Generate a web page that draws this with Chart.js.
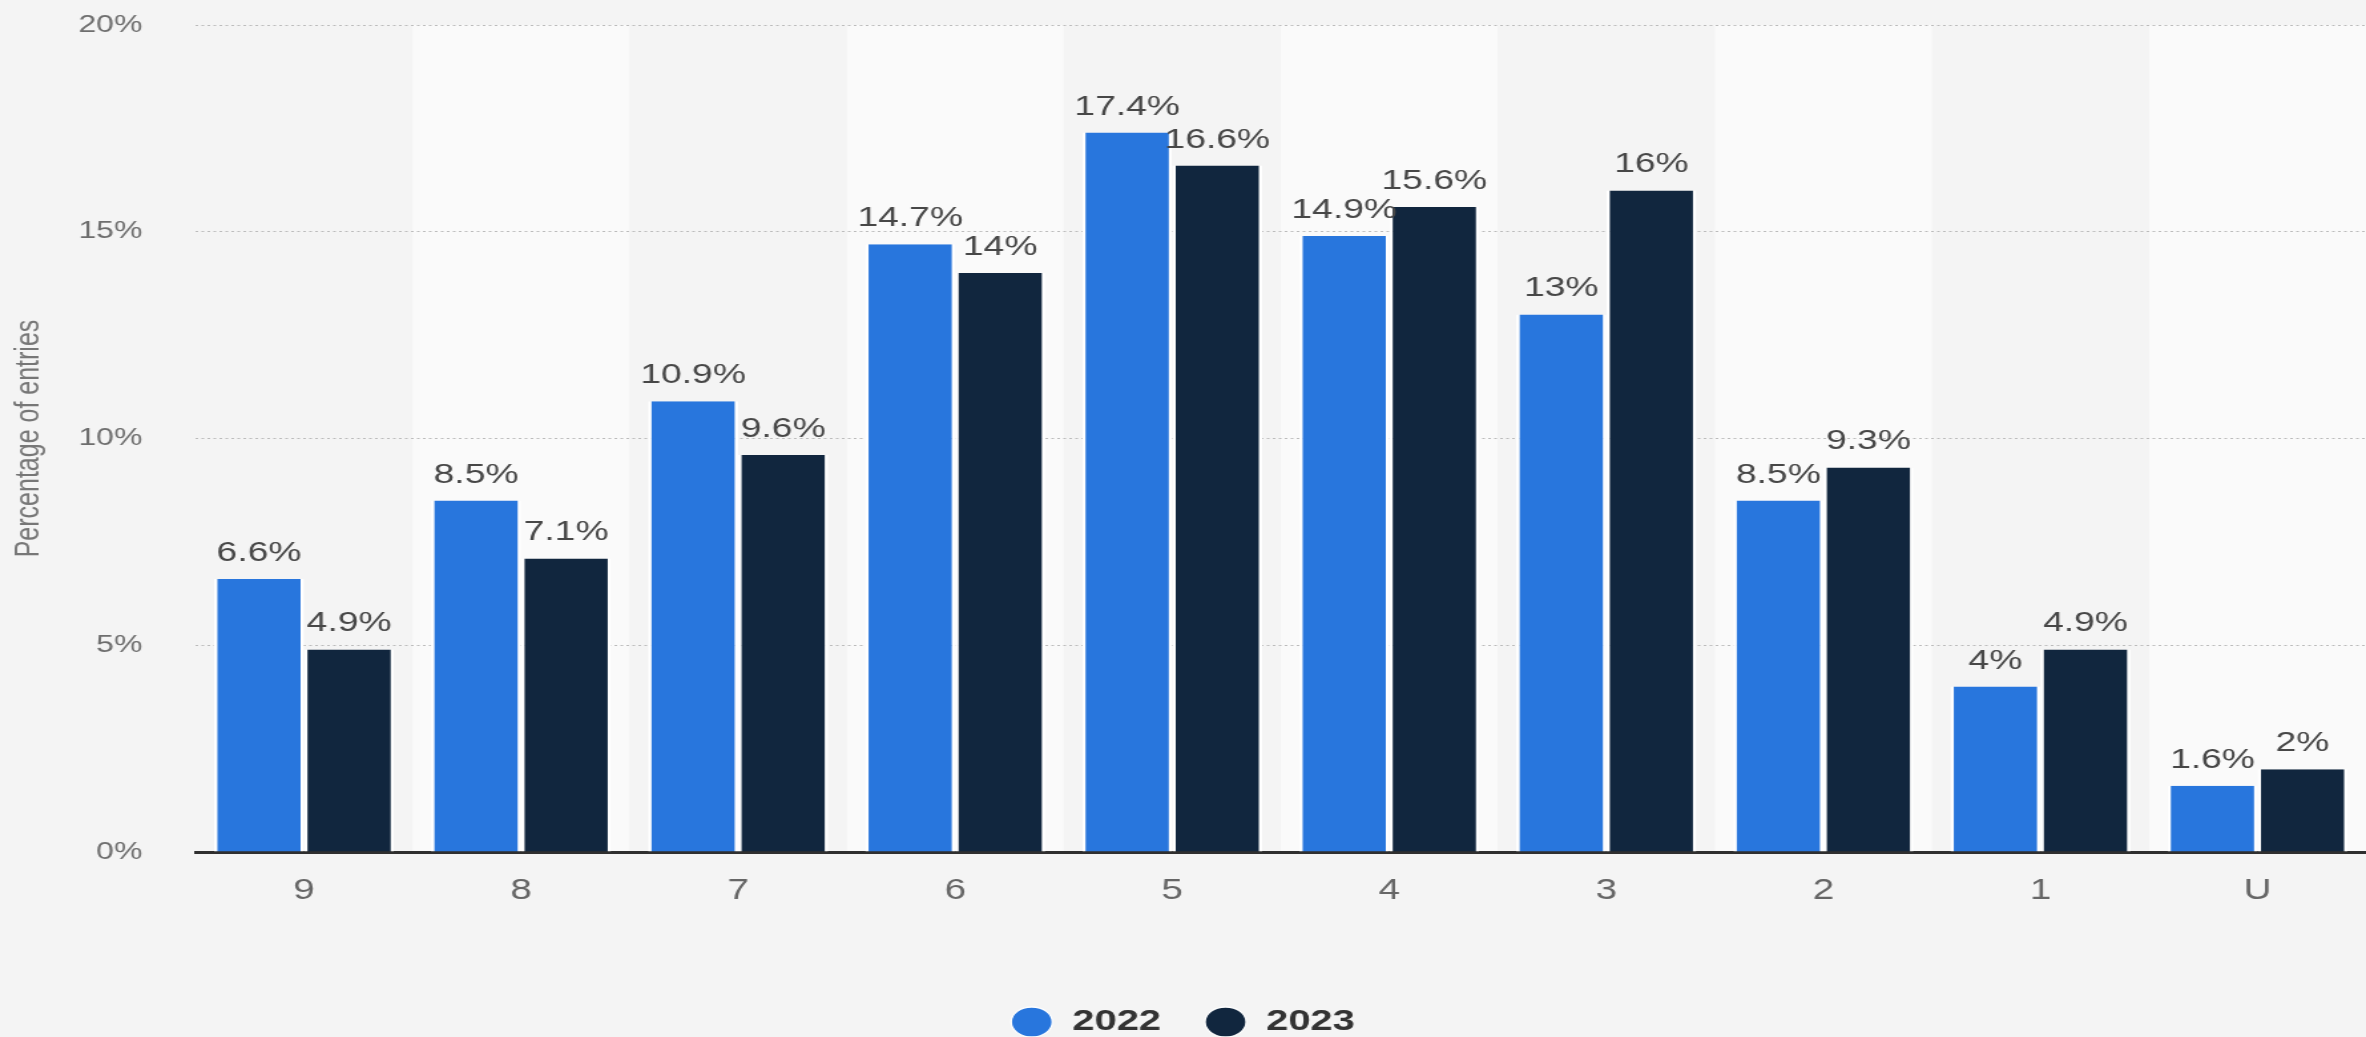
<!DOCTYPE html>
<html><head><meta charset="utf-8">
<script src="https://cdn.jsdelivr.net/npm/chart.js@4.4.0/dist/chart.umd.min.js"></script>
<style>
html,body{margin:0;padding:0;background:#f4f4f4;overflow:hidden}
#c{display:block}
</style></head><body>
<canvas id="c" width="1779" height="1037" style="width:2366px;height:1037px"></canvas>
<script>
const categories = ['9','8','7','6','5','4','3','2','1','U'];
const values2022 = [6.6, 8.5, 10.9, 14.7, 17.4, 14.9, 13, 8.5, 4, 1.6];
const values2023 = [4.9, 7.1, 9.6, 14, 16.6, 15.6, 16, 9.3, 4.9, 2];
const seriesLabels = ['2022', '2023'];
const yTickValues = [0, 5, 10, 15, 20];
const yTitle = 'Percentage of entries';

Chart.defaults.font.family = "'Liberation Sans', Arial, Helvetica, sans-serif";

const bandsPlugin = {
  id: 'bands',
  beforeDraw(chart) {
    const {ctx, chartArea, scales: {x}} = chart;
    ctx.save();
    ctx.fillStyle = '#f4f4f4';
    ctx.fillRect(0, 0, chart.width, chart.height);
    const w = (chartArea.right - chartArea.left) / categories.length;
    ctx.fillStyle = '#fafafa';
    categories.forEach((c, i) => {
      if (i % 2 === 1) {
        const cx = x.getPixelForValue(i);
        ctx.fillRect(cx - w / 2, chartArea.top, w, chartArea.bottom - chartArea.top);
      }
    });
    ctx.restore();
  }
};

const labelsPlugin = {
  id: 'valueLabels',
  afterDatasetsDraw(chart) {
    const {ctx} = chart;
    ctx.save();
    ctx.font = "28px 'Liberation Sans', Arial, sans-serif";
    ctx.fillStyle = '#474747';
    ctx.textAlign = 'center';
    ctx.textBaseline = 'alphabetic';
    chart.data.datasets.forEach((ds, di) => {
      const meta = chart.getDatasetMeta(di);
      meta.data.forEach((bar, i) => {
        ctx.fillText(ds.data[i] + '%', bar.x, bar.y - 18);
      });
    });
    ctx.restore();
  }
};

new Chart(document.getElementById('c'), {
  type: 'bar',
  data: {
    labels: categories,
    datasets: [
      {label: seriesLabels[0], data: values2022, backgroundColor: '#2876dd', borderColor: '#ffffff',
       borderWidth: {left: 2.6, right: 2.6, top: 0, bottom: 0}, borderSkipped: false,
       categoryPercentage: 0.83, barPercentage: 1},
      {label: seriesLabels[1], data: values2023, backgroundColor: '#11263e', borderColor: '#ffffff',
       borderWidth: {left: 2.6, right: 2.6, top: 0, bottom: 0}, borderSkipped: false,
       categoryPercentage: 0.83, barPercentage: 1}
    ]
  },
  options: {
    responsive: false,
    devicePixelRatio: 1,
    animation: false,
    layout: {padding: {top: 25, left: 0, right: 0, bottom: -10}},
    plugins: {
      legend: {
        position: 'bottom',
        labels: {
          usePointStyle: true, pointStyle: 'circle', pointStyleWidth: 31, boxHeight: 21.2,
          padding: 33, color: '#333333',
          font: {size: 30, weight: 'bold'}
        }
      },
      tooltip: {enabled: false}
    },
    scales: {
      x: {
        grid: {display: false, drawTicks: false},
        border: {display: true, color: '#2f2f2f', width: 3},
        ticks: {color: '#666666', font: {size: 29}, padding: 22},
        afterFit(s) { s.height = 122; }
      },
      y: {
        min: yTickValues[0], max: yTickValues[yTickValues.length - 1],
        afterBuildTicks(s) { s.ticks = yTickValues.map(v => ({value: v})); },
        grid: {
          drawTicks: true, tickLength: 40, tickColor: 'rgba(0,0,0,0)', lineWidth: 1,
          color: (c) => (c.tick && c.tick.value === 0) ? 'rgba(0,0,0,0)' : '#bcbcbc'
        },
        border: {display: false, dash: [2, 2.5]},
        ticks: {color: '#6e6e6e', font: {size: 24}, padding: 0, callback: (v) => v + '%'},
        title: {display: true, text: yTitle, color: '#777777', font: {size: 25, lineHeight: 1.2}, padding: {top: 6.8, bottom: 0}},
        afterFit(s) { s.width = 147; }
      }
    }
  },
  plugins: [bandsPlugin, labelsPlugin]
});
</script>
</body></html>
